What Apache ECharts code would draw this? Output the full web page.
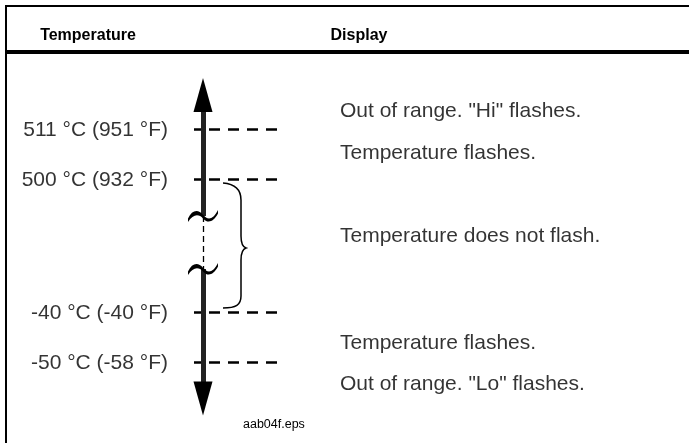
<!DOCTYPE html>
<html>
<head>
<meta charset="utf-8">
<script src="https://cdn.jsdelivr.net/npm/echarts@6/dist/echarts.min.js"></script>
<style>
html, body { margin: 0; padding: 0; background: #fff; }
#chart { width: 689px; height: 443px; }
</style>
</head>
<body>
<div id="chart"></div>
<script>
// temperature thresholds
const levelC = [511, 500, -40, -50];
const levelF = [951, 932, -40, -58];
// display behaviour, top to bottom
const messages = [
  'Out of range. "Hi" flashes.',
  'Temperature flashes.',
  'Temperature does not flash.',
  'Temperature flashes.',
  'Out of range. "Lo" flashes.'
];
const headers = ['Temperature', 'Display'];
const figureName = 'aab04f.eps';

// layout of the schematic (pixel scale of the axes)
const levelY = [129, 179, 312, 362];
const messageY = [111, 153, 236, 343, 384];
const shaftX = 203;
const breakY = [216, 269];
const FONT = 'Liberation Sans, Arial, sans-serif';

const chart = echarts.init(document.getElementById('chart'), null, { renderer: 'canvas' });

const levelLabels = levelC.map((c, i) => ({
  value: [194, levelY[i] + 1],
  name: c + ' °C (' + levelF[i] + ' °F)'
}));

const option = {
  animation: false,
  grid: { left: 0, right: 0, top: 0, bottom: 0 },
  xAxis: { type: 'value', min: 0, max: 689, show: false },
  yAxis: { type: 'value', min: 0, max: 443, inverse: true, show: false },
  graphic: [
    { type: 'line', shape: { x1: 5, y1: 6, x2: 689, y2: 6 }, style: { stroke: '#000', lineWidth: 2 } },
    { type: 'line', shape: { x1: 6, y1: 5, x2: 6, y2: 443 }, style: { stroke: '#000', lineWidth: 2 } },
    { type: 'line', shape: { x1: 5, y1: 52, x2: 689, y2: 52 }, style: { stroke: '#000', lineWidth: 4 } },
    { type: 'text', x: 88, y: 36, style: { text: headers[0], font: 'bold 16px ' + FONT, fill: '#000', textAlign: 'center', textVerticalAlign: 'middle' } },
    { type: 'text', x: 359, y: 36, style: { text: headers[1], font: 'bold 16px ' + FONT, fill: '#000', textAlign: 'center', textVerticalAlign: 'middle' } },
    { type: 'text', x: 243, y: 425, style: { text: figureName, font: '12.5px ' + FONT, fill: '#000', textAlign: 'left', textVerticalAlign: 'middle' } }
  ],
  series: [
    {
      // dashed threshold lines
      type: 'lines',
      coordinateSystem: 'cartesian2d',
      z: 2,
      lineStyle: { color: '#000', width: 2.5, type: [11, 8], dashOffset: 4, opacity: 1 },
      data: levelY.map(y => ({ coords: [[194, y], [278, y]] }))
    },
    {
      // threshold labels
      type: 'scatter',
      symbolSize: 0,
      z: 3,
      label: {
        show: true, position: 'left', distance: 26, formatter: '{b}',
        color: '#000', fontSize: 21, fontFamily: FONT
      },
      data: levelLabels
    },
    {
      // display messages
      type: 'scatter',
      symbolSize: 0,
      z: 3,
      label: {
        show: true, position: 'right', distance: 0, formatter: '{b}',
        color: '#000', fontSize: 21, fontFamily: FONT
      },
      data: messageY.map((y, i) => ({ value: [340, y], name: messages[i] }))
    },
    {
      // broken part of the scale
      type: 'lines',
      coordinateSystem: 'cartesian2d',
      z: 3,
      lineStyle: { color: '#000', width: 1.3, type: [6, 4], opacity: 1 },
      data: [{ coords: [[shaftX, breakY[0]], [shaftX, breakY[1]]] }]
    },
    {
      // arrow shaft
      type: 'lines',
      coordinateSystem: 'cartesian2d',
      z: 4,
      lineStyle: { color: '#222', width: 5, opacity: 1 },
      data: [
        { coords: [[shaftX, 110], [shaftX, breakY[0]]] },
        { coords: [[shaftX, breakY[1]], [shaftX, 384]] }
      ]
    },
    {
      // arrow heads
      type: 'scatter',
      symbol: 'triangle',
      symbolSize: [19, 34],
      z: 5,
      itemStyle: { color: '#000', opacity: 1 },
      data: [
        { value: [shaftX, 95] },
        { value: [shaftX, 398.5], symbolRotate: 180 }
      ]
    },
    {
      // break marks
      type: 'scatter',
      symbol: 'path://M0,8 C4,1 10,0 15,5 C20,10 25,9 30,1 L30,4 C25,12 19,12 15,8 C11,4 5,4 0,11 Z',
      symbolSize: [30, 12],
      z: 6,
      itemStyle: { color: '#000', opacity: 1 },
      data: breakY.map(y => [shaftX, y])
    },
    {
      // brace for the normal range
      type: 'custom',
      coordinateSystem: 'cartesian2d',
      z: 4,
      data: [[0, 0]],
      renderItem: function (params, api) {
        const p = pts => pts.map(v => api.coord(v));
        const a = p([[223, 183], [236, 184], [241, 190], [241, 200], [241, 236], [241, 244], [243, 247], [246, 248],
          [243, 249], [241, 252], [241, 260], [241, 296], [241, 305], [236, 308], [223, 308]]);
        const d = 'M' + a[0] + ' C' + a[1] + ' ' + a[2] + ' ' + a[3] + ' L' + a[4] + ' C' + a[5] + ' ' + a[6] + ' ' + a[7] +
          ' C' + a[8] + ' ' + a[9] + ' ' + a[10] + ' L' + a[11] + ' C' + a[12] + ' ' + a[13] + ' ' + a[14];
        return {
          type: 'path',
          shape: { pathData: d },
          style: { fill: 'none', stroke: '#000', lineWidth: 1.5 }
        };
      }
    }
  ]
};

chart.setOption(option);
window.addEventListener('resize', () => chart.resize());
</script>
</body>
</html>
